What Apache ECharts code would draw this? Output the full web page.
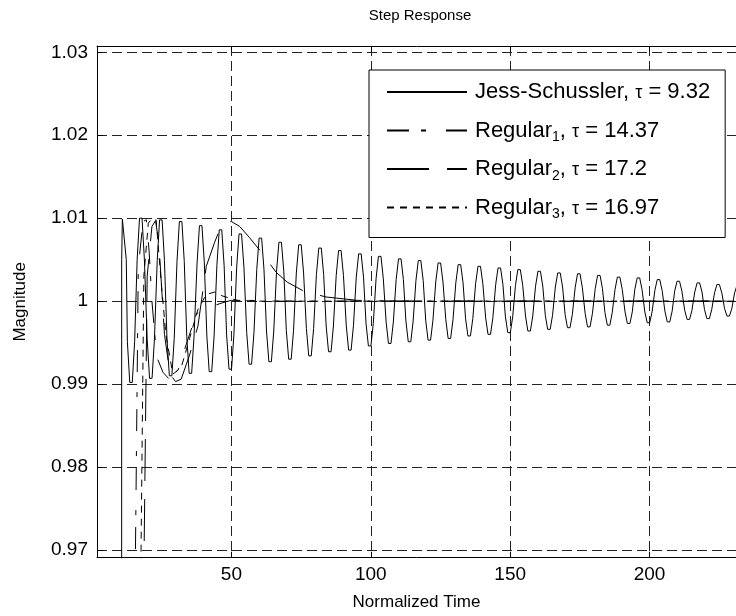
<!DOCTYPE html>
<html><head><meta charset="utf-8">
<script src="https://cdn.jsdelivr.net/npm/echarts@6/dist/echarts.min.js"></script>
<style>html,body{margin:0;padding:0;background:#fff}#c{width:736px;height:616px}</style>
</head><body><div id="c"></div>
<script>
// ---- data ----
const titleText = 'Step Response';
const xName = 'Normalized Time';
const yName = 'Magnitude';
const xTicks = [50, 100, 150, 200];
const yTicks = [0.97, 0.98, 0.99, 1.0, 1.01, 1.02, 1.03];
const xRange = [1.8, 231];
const yRange = [0.96907, 1.03076];
const legendMain = ['Jess-Schussler', 'Regular', 'Regular', 'Regular'];
const legendSub = ['', '1', '2', '3'];
const legendTau = ['9.32', '14.37', '17.2', '16.97'];

const jessSchussler = [
 [2,0],[10.55,0],[10.65,1.0050],[10.9,1.0099],[11.5,1.0099],[12.3,1.0050],
 [12.7,.9951],[13.55,.9902],[14.45,.9902],[15.3,.9951],
 [16.2,1.0050],[17.05,1.0100],[17.95,1.0100],[18.8,1.0050],
 [19.8,.9954],[20.65,.9907],[21.55,.9907],[22.4,.9954],
 [23.4,1.0049],[24.25,1.0098],[25.15,1.0098],[26.0,1.0049],
 [26.9,.9955],[27.75,.9910],[28.65,.9910],[29.5,.9955],
 [30.5,1.0048],[31.35,1.0096],[32.25,1.0096],[33.1,1.0048],
 [34.0,.9957],[34.85,.9913],[35.75,.9913],[36.6,.9957],
 [37.7,1.0046],[38.55,1.0091],[39.45,1.0091],[40.3,1.0046],
 [41.2,.9958],[42.05,.9915],[42.95,.9915],[43.8,.9958],
 [44.8,1.0043],[45.65,1.0086],[46.55,1.0086],[47.4,1.0043],
 [48.3,.9959],[49.15,.9918],[50.05,.9918],[50.9,.9959],
 [51.9,1.0041],[52.75,1.0081],[53.65,1.0081],[54.5,1.0041],
 [55.5,.9962],[56.35,.9924],[57.25,.9924],[58.1,.9962],
 [59.1,1.0038],[59.95,1.0076],[60.85,1.0076],[61.7,1.0038],
 [62.6,.9964],[63.45,.9927],[64.35,.9927],[65.2,.9964],
 [66.2,1.0036],[67.05,1.0071],[67.95,1.0071],[68.8,1.0036],
 [69.7,.9965],[70.55,.9930],[71.45,.9930],[72.3,.9965],
 [73.3,1.0034],[74.15,1.0068],[75.05,1.0068],[75.9,1.0034],
 [76.9,.9967],[77.75,.9934],[78.65,.9934],[79.5,.9967],
 [80.5,1.0032],[81.35,1.0064],[82.25,1.0064],[83.1,1.0032],
 [84.0,.9970],[84.85,.9939],[85.75,.9939],[86.6,.9970],
 [87.6,1.0031],[88.45,1.0061],[89.35,1.0061],[90.2,1.0031],
 [91.2,.9971],[92.05,.9941],[92.95,.9941],[93.8,.9971],
 [94.8,1.0029],[95.65,1.0057],[96.55,1.0057],[97.4,1.0029],
 [98.3,.9973],[99.15,.9946],[100.05,.9946],[100.9,.9973],
 [101.9,1.0027],[102.75,1.0054],[103.65,1.0054],[104.5,1.0027],
 [105.5,.9975],[106.35,.9949],[107.25,.9949],[108.1,.9975],
 [109.1,1.0026],[109.95,1.0051],[110.85,1.0051],[111.7,1.0026],
 [112.6,.9976],[113.45,.9951],[114.35,.9951],[115.2,.9976],
 [116.2,1.0025],[117.05,1.0049],[117.95,1.0049],[118.8,1.0025],
 [119.7,.9977],[120.55,.9953],[121.45,.9953],[122.3,.9977],
 [123.3,1.0023],[124.15,1.0046],[125.05,1.0046],[125.9,1.0023],
 [126.9,.9978],[127.75,.9955],[128.65,.9955],[129.5,.9978],
 [130.5,1.0022],[131.35,1.0044],[132.25,1.0044],[133.1,1.0022],
 [134.0,.9979],[134.85,.9958],[135.75,.9958],[136.6,.9979],
 [137.6,1.0021],[138.45,1.0042],[139.35,1.0042],[140.2,1.0021],
 [141.2,.9980],[142.05,.9960],[142.95,.9960],[143.8,.9980],
 [144.8,1.0020],[145.65,1.0040],[146.55,1.0040],[147.4,1.0020],
 [148.3,.9981],[149.15,.9962],[150.05,.9962],[150.9,.9981],
 [151.9,1.0019],[152.75,1.0038],[153.65,1.0038],[154.5,1.0019],
 [155.5,.9982],[156.35,.9964],[157.25,.9964],[158.1,.9982],
 [159.1,1.0018],[159.95,1.0036],[160.85,1.0036],[161.7,1.0018],
 [162.6,.9983],[163.45,.9966],[164.35,.9966],[165.2,.9983],
 [166.2,1.0017],[167.05,1.0034],[167.95,1.0034],[168.8,1.0017],
 [169.7,.9984],[170.55,.9968],[171.45,.9968],[172.3,.9984],
 [173.3,1.0016],[174.15,1.0033],[175.05,1.0033],[175.9,1.0016],
 [176.9,.9985],[177.75,.9969],[178.65,.9969],[179.5,.9985],
 [180.5,1.0015],[181.35,1.0031],[182.25,1.0031],[183.1,1.0015],
 [184.0,.9986],[184.85,.9971],[185.75,.9971],[186.6,.9986],
 [187.6,1.0014],[188.45,1.0029],[189.35,1.0029],[190.2,1.0014],
 [191.2,.9987],[192.05,.9973],[192.95,.9973],[193.8,.9987],
 [194.7,1.0014],[195.55,1.0028],[196.45,1.0028],[197.3,1.0014],
 [198.3,.9987],[199.15,.9974],[200.05,.9974],[200.9,.9987],
 [201.9,1.0013],[202.75,1.0026],[203.65,1.0026],[204.5,1.0013],
 [205.5,.9988],[206.35,.9975],[207.25,.9975],[208.1,.9988],
 [209.0,1.0012],[209.85,1.0024],[210.75,1.0024],[211.6,1.0012],
 [212.6,.9989],[213.45,.9978],[214.35,.9978],[215.2,.9989],
 [216.2,1.0011],[217.05,1.0022],[217.95,1.0022],[218.8,1.0011],
 [219.7,.9990],[220.55,.9979],[221.45,.9979],[222.3,.9990],
 [223.3,1.0010],[224.15,1.0020],[225.05,1.0020],[225.9,1.0010],
 [226.9,.9991],[227.75,.9982],[228.65,.9982],[229.5,.9991],
 [230.5,1.0010],[231.35,1.0019],[232.25,1.0019]
];
const regular1 = [
 [2,0],[15.0,0],[15.6,0.9700],[16.6,1.0040],[18.3,1.0096],[19.5,1.0098],[20.5,1.0060],
 [21.5,1.0000],[23.2,0.9933],[25.5,0.9914],[28.0,0.9905],[31.0,0.9918],[34.0,0.9950],[37.5,0.9985],
 [41.1,0.9990],[43.2,0.9994],[46.8,0.9998],[50,1.0001],[56,1.0001],[65,1.0000],[232,1.0000]
];
const regular2 = [
 [2,0],[18.2,0],[18.7,0.9700],[19.8,1.0030],[21.5,1.0090],[22.8,1.0097],[24.0,1.0070],
 [26.0,0.9960],[28.0,0.9912],[30.0,0.9903],[32.0,0.9906],[35.0,0.9935],[38.0,0.9970],
 [41.0,1.0042],[44.0,1.0071],[46.0,1.0088],[48.0,1.0094],[50.0,1.0096],[53.0,1.0090],
 [56.4,1.0077],[61.0,1.0058],[66.0,1.0035],[70.0,1.0023],[76.0,1.0012],[84.0,1.0005],
 [95.0,1.0001],[110,1.0000],[232,1.0000]
];
const regular3 = [
 [2,0],[17.0,0],[17.6,0.9700],[18.6,1.0030],[20.2,1.0094],[21.4,1.0099],[23.0,1.0098],
 [25.0,1.0016],[26.5,0.9960],[29.0,0.9912],[32.0,0.9920],[35.0,0.9955],[38.0,0.9990],
 [41.0,1.0008],[44.0,1.0011],[47.0,1.0006],[52.0,1.0001],[60,1.0000],[232,1.0000]
];
const seriesData = [jessSchussler, regular1, regular2, regular3];

// ---- styling ----
const FONT = 'Liberation Sans, Arial, sans-serif';
const dashStyles = ['solid', [22, 12, 5, 20], [42, 18], [7, 6]];
const gridDash = [10, 5];
const names = legendMain.map((m, i) => m + (legendSub[i] ? '_' + legendSub[i] : '') + ', tau = ' + legendTau[i]);

const chart = echarts.init(document.getElementById('c'), null, {renderer: 'canvas'});
const axisCommon = {
  axisLine: {show: true, onZero: false, lineStyle: {color: '#000', width: 1}},
  axisTick: {show: true, inside: true, length: 6, lineStyle: {color: '#000'}},
};
chart.setOption({
  animation: false,
  backgroundColor: '#fff',
  color: ['#000', '#000', '#000', '#000'],
  title: {
    text: titleText, left: 415, top: 3, textAlign: 'center',
    textStyle: {fontFamily: FONT, fontSize: 15, fontWeight: 'normal', color: '#000'}
  },
  grid: {left: 97, top: 46, width: 642, height: 511.7, containLabel: false},
  legend: {
    orient: 'vertical', left: 369, top: 70,
    itemWidth: 80, itemHeight: 14, itemGap: 10.5,
    padding: [8, 15, 16, 17],
    backgroundColor: '#fff', borderColor: '#000', borderWidth: 1,
    selectedMode: false,
    itemStyle: {color: 'rgba(0,0,0,0)', borderColor: 'rgba(0,0,0,0)', borderWidth: 0},
    data: names,
    formatter: function (name) {
      const i = names.indexOf(name);
      return legendMain[i] + (legendSub[i] ? '{sub|' + legendSub[i] + '}' : '') + ', {tau|τ} = ' + legendTau[i];
    },
    textStyle: {
      fontFamily: FONT, fontSize: 22, color: '#000', lineHeight: 28, padding: [0, 0, 0, 3],
      rich: {
        sub: {fontFamily: FONT, fontSize: 14, color: '#000', verticalAlign: 'bottom', lineHeight: 28, padding: [13, 0, 0, 0]},
        tau: {fontFamily: FONT, fontSize: 18, color: '#000', lineHeight: 28, padding: [3, 0, 0, 0]}
      }
    }
  },
  xAxis: [{
    type: 'value', min: xRange[0], max: xRange[1], position: 'bottom',
    name: xName, nameLocation: 'middle', nameGap: 36,
    nameTextStyle: {fontFamily: FONT, fontSize: 17, color: '#000'},
    ...axisCommon,
    axisTick: {...axisCommon.axisTick, customValues: xTicks},
    axisLabel: {customValues: xTicks, fontFamily: FONT, fontSize: 19, color: '#000', margin: 8},
    splitLine: {show: true, lineStyle: {color: '#222', width: 1, type: gridDash}}
  }, {
    type: 'value', min: xRange[0], max: xRange[1], position: 'top',
    ...axisCommon,
    axisTick: {...axisCommon.axisTick, customValues: xTicks},
    axisLabel: {show: false},
    splitLine: {show: false}
  }],
  yAxis: [{
    type: 'value', min: yRange[0], max: yRange[1],
    name: yName, nameLocation: 'middle', nameGap: 68,
    nameTextStyle: {fontFamily: FONT, fontSize: 17, color: '#000'},
    ...axisCommon,
    axisTick: {...axisCommon.axisTick, customValues: yTicks},
    axisLabel: {customValues: yTicks, fontFamily: FONT, fontSize: 19, color: '#000', margin: 9,
      formatter: v => String(Number(v.toFixed(2)))},
    splitLine: {show: true, lineStyle: {color: '#222', width: 1, type: gridDash}}
  }],
  series: seriesData.map((d, i) => ({
    name: names[i], type: 'line', data: d, symbol: 'none', showSymbol: false,
    clip: true, z: 3, color: '#000',
    lineStyle: {color: '#000', width: 1, type: dashStyles[i]}
  }))
});
</script></body></html>
